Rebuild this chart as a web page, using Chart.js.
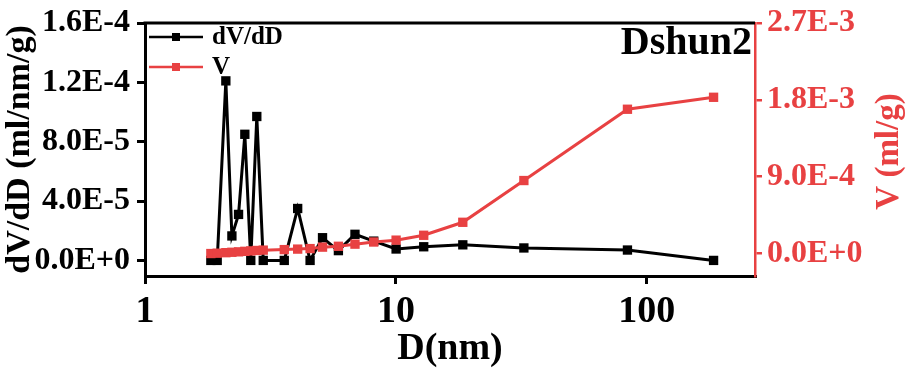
<!DOCTYPE html>
<html><head><meta charset="utf-8">
<script src="https://cdn.jsdelivr.net/npm/chart.js@4.4.1/dist/chart.umd.min.js"></script>
<style>html,body{margin:0;padding:0;background:#fff;} #c{display:block;}</style>
</head><body>
<canvas id="c" width="909" height="378"></canvas>
<script>
// ---- data ----
const diameters = [1.83, 1.94, 2.10, 2.22, 2.36, 2.50, 2.64, 2.79, 2.96, 3.59, 4.06, 4.55, 5.10, 5.90, 6.87, 8.16, 10.02, 12.91, 18.48, 32.37, 83.75, 184.6];
const dVdD = [0, 0, 1.21e-4, 1.65e-5, 3.1e-5, 8.5e-5, 0, 9.7e-5, 0, 0, 3.5e-5, 0, 1.53e-5, 6.6e-6, 1.76e-5, 1.3e-5, 7.7e-6, 9.2e-6, 1.05e-5, 8.4e-6, 7.0e-6, 0];
const volume = [0, 4e-6, 1.0e-5, 1.5e-5, 2.0e-5, 2.6e-5, 3.1e-5, 3.6e-5, 4.0e-5, 4.6e-5, 5.2e-5, 5.8e-5, 7.5e-5, 8.5e-5, 1.1e-4, 1.35e-4, 1.57e-4, 2.14e-4, 3.66e-4, 8.55e-4, 1.69e-3, 1.83e-3];
const xTicks = [1, 10, 100];
const leftTicks = [0, 4e-5, 8e-5, 1.2e-4, 1.6e-4];
const rightTicks = [0, 9e-4, 1.8e-3, 2.7e-3];
const seriesNames = ['dV/dD', 'V'];
const sampleName = 'Dshun2';
const xTitle = 'D(nm)';
const leftTitle = 'dV/dD (ml/nm/g)';
const rightTitle = 'V (ml/g)';

// ---- styling ----
const RED = '#E84142';
const FONT = "'Liberation Serif','Times New Roman',serif";
const fmt = v => Number(v).toExponential(1).toUpperCase();

const overlay = {
  id: 'overlay',
  afterDatasetsDraw(chart) {
    const ctx = chart.ctx, a = chart.chartArea;
    ctx.save();
    ctx.strokeStyle = '#000'; ctx.lineWidth = 3;
    ctx.beginPath(); ctx.moveTo(a.left - 1.5, a.top); ctx.lineTo(a.right, a.top); ctx.stroke();
    chart.data.datasets.forEach((ds, i) => {
      const y = a.top + 14 + i * 30;
      const x1 = a.left + 4, x2 = x1 + 54;
      ctx.strokeStyle = ds.borderColor; ctx.lineWidth = 2.5;
      ctx.beginPath(); ctx.moveTo(x1, y); ctx.lineTo(x2, y); ctx.stroke();
      ctx.fillStyle = ds.borderColor;
      ctx.fillRect((x1 + x2) / 2 - 4, y - 4, 8, 8);
      ctx.fillStyle = '#000';
      ctx.font = 'bold 25px ' + FONT;
      ctx.textAlign = 'left'; ctx.textBaseline = 'middle';
      ctx.fillText(ds.label, x2 + 9, y + 1);
    });
    ctx.fillStyle = '#000';
    ctx.font = 'bold 40px ' + FONT;
    ctx.textAlign = 'right'; ctx.textBaseline = 'alphabetic';
    ctx.fillText(sampleName, a.right - 3, 54);
    // right axis title, reading bottom-to-top like the left one
    const ry = chart.scales.y1;
    ctx.translate(ry.right - 20, (a.top + a.bottom) / 2 + 2);
    ctx.rotate(-Math.PI / 2);
    ctx.fillStyle = RED;
    ctx.font = 'bold 33px ' + FONT;
    ctx.textAlign = 'center'; ctx.textBaseline = 'middle';
    ctx.fillText(rightTitle, 0, 0);
    ctx.restore();
  }
};

const ds = (label, vals, axis, color, order) => ({
  label, yAxisID: axis, order,
  data: diameters.map((d, i) => ({x: d, y: vals[i]})),
  borderColor: color, backgroundColor: color,
  pointBackgroundColor: color, pointBorderColor: color,
  borderWidth: 3, pointStyle: 'rect', pointRadius: 6.6, pointBorderWidth: 0,
  tension: 0
});

new Chart(document.getElementById('c'), {
  type: 'line',
  data: { datasets: [ ds(seriesNames[0], dVdD, 'y', '#000', 1), ds(seriesNames[1], volume, 'y1', RED, 0) ] },
  options: {
    responsive: false, animation: false, devicePixelRatio: 1,
    layout: { padding: { top: 17, left: 0, right: 0, bottom: 0 } },
    plugins: { legend: { display: false }, tooltip: { enabled: false } },
    scales: {
      x: {
        type: 'logarithmic', position: 'bottom', min: 1, max: 270,
        afterFit(s) { s.height = 102; },
        afterBuildTicks(s) { s.ticks = xTicks.map(v => ({value: v})); },
        ticks: { callback: v => String(v), color: '#000', padding: 5, maxRotation: 0, autoSkip: false,
                 font: { family: FONT, size: 38, weight: 'bold' } },
        grid: { display: true, drawOnChartArea: false, drawTicks: true, tickLength: 8, color: '#000', lineWidth: 3 },
        border: { display: true, color: '#000', width: 3 },
        title: { display: true, text: xTitle, color: '#000', padding: { top: 0, bottom: 6 },
                 font: { family: FONT, size: 38, weight: 'bold' } }
      },
      y: {
        position: 'left', min: -1.05e-5, max: 1.6e-4,
        afterFit(s) { s.width = 145; },
        afterBuildTicks(s) { s.ticks = leftTicks.map(v => ({value: v})); },
        ticks: { callback: fmt, color: '#000', padding: 7,
                 font: { family: FONT, size: 32, weight: 'bold', lineHeight: 1 } },
        grid: { display: true, drawOnChartArea: false, drawTicks: true, tickLength: 8, color: '#000', lineWidth: 3 },
        border: { display: true, color: '#000', width: 3 },
        title: { display: true, text: leftTitle, color: '#000', padding: { top: 0, bottom: 0 },
                 font: { family: FONT, size: 34, weight: 'bold' } }
      },
      y1: {
        position: 'right', min: -2.63e-4, max: 2.7e-3,
        afterFit(s) { s.width = 154; },
        afterBuildTicks(s) { s.ticks = rightTicks.map(v => ({value: v})); },
        ticks: { callback: fmt, color: RED, padding: 5,
                 font: { family: FONT, size: 32, weight: 'bold', lineHeight: 1 } },
        grid: { display: true, drawOnChartArea: false, drawTicks: true, tickLength: 7, color: RED, lineWidth: 2.5 },
        border: { display: true, color: RED, width: 2.5 },
        title: { display: false, text: rightTitle }
      }
    }
  },
  plugins: [overlay]
});
</script>
</body></html>
